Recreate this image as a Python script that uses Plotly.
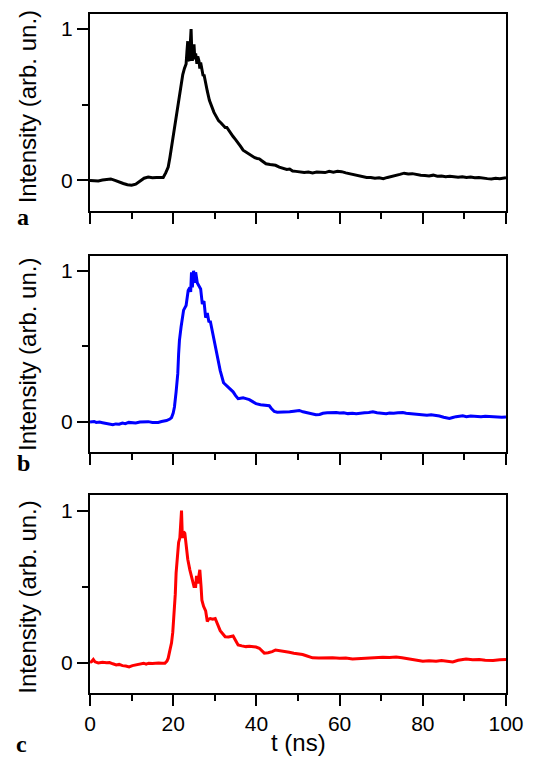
import plotly.graph_objects as go
from plotly.subplots import make_subplots

# ---- data ----
t_a = [0, 1, 2, 3, 4, 5, 6, 7, 8, 9, 10, 11, 12, 13, 14, 15, 16, 17, 17.6, 18.2, 18.8, 19.2, 19.6, 20.0,
       20.3, 20.5, 20.8, 21.1, 21.5, 21.9, 22.3, 22.7, 23.1, 23.3, 23.5, 23.7, 23.9, 24.1, 24.3, 24.5,
       24.6, 24.8, 25.0, 25.2, 25.4, 25.7, 25.9, 26.2, 26.4, 26.6, 27.0, 27.2, 27.4, 27.8, 28.2, 28.7,
       29.3, 29.8, 30.4, 30.9, 31.5, 32.0, 32.5, 32.9, 33.4, 34.0, 34.4, 35.0, 35.6, 36.2, 36.8, 37.5,
       38.0, 38.5, 39.1, 39.6, 40.2, 40.7, 41.3, 42.3, 43.3, 44.6, 45.5, 46.5, 47.3, 48.0, 48.7, 49.5,
       50.5, 51.5, 52.5, 53.5, 54.5, 55.5, 56.5, 57.5, 58.5, 59.5, 60.5, 61.5, 62.5, 63.5, 64.5, 65.5,
       66.5, 67.5, 68.5, 69.5, 70.5, 71.5, 72.5, 73.5, 74.5, 75.5, 76.5, 77.5, 78.5, 79.5, 80.5, 81.5,
       82.5, 83.5, 84.5, 85.5, 86.5, 87.5, 88.5, 89.5, 90.5, 91.5, 92.5, 93.5, 94.5, 95.5, 96.5, 97.5,
       98.5, 99.5, 100]
v_a = [0, 0.0, -0.003, 0.003, 0.008, 0.01, 0.0, -0.012, -0.02, -0.028, -0.032, -0.025, -0.005, 0.015,
       0.022, 0.018, 0.02, 0.018, 0.02, 0.05, 0.088, 0.15, 0.22, 0.30, 0.35, 0.40, 0.44, 0.48, 0.57,
       0.65, 0.70, 0.74, 0.77, 0.85, 0.92, 0.80, 0.79, 0.90, 1.0, 0.82, 0.79, 0.86, 0.90, 0.80, 0.84,
       0.77, 0.82, 0.79, 0.74, 0.78, 0.72, 0.69, 0.70, 0.635, 0.59, 0.53, 0.48, 0.45, 0.42, 0.395,
       0.38, 0.365, 0.35, 0.35, 0.33, 0.30, 0.29, 0.27, 0.25, 0.225, 0.20, 0.187, 0.175, 0.165, 0.155,
       0.15, 0.145, 0.143, 0.13, 0.11, 0.105, 0.10, 0.088, 0.078, 0.072, 0.075, 0.062, 0.06, 0.055,
       0.052, 0.055, 0.05, 0.055, 0.055, 0.052, 0.06, 0.055, 0.06, 0.058, 0.05, 0.045, 0.04, 0.03,
       0.025, 0.02, 0.02, 0.015, 0.018, 0.012, 0.02, 0.025, 0.035, 0.04, 0.048, 0.042, 0.045, 0.038,
       0.035, 0.033, 0.03, 0.035, 0.028, 0.03, 0.025, 0.028, 0.026, 0.022, 0.025, 0.02, 0.022, 0.018,
       0.02, 0.015, 0.012, 0.01, 0.014, 0.012, 0.016, 0.018]

t_b = [0, 0.4, 1, 1.5, 2.3, 3, 4, 5, 5.5, 6.2, 7, 7.8, 8.5, 9.3, 10.2, 11, 12, 13.3, 14, 15, 16.4, 17.2,
       18.4, 19.2, 19.6, 20.0, 20.3, 20.7, 21.1, 21.3, 21.5, 21.9, 22.5, 23.1, 23.6, 24.0, 24.2, 24.4,
       24.6, 24.9, 25.2, 25.4, 25.8, 26.6, 27.0, 27.4, 27.8, 28.2, 28.6, 28.9, 29.7, 30.5, 31.3, 32.1,
       32.7, 33.3, 34.0, 34.4, 35.0, 35.6, 36.2, 36.8, 37.5, 38.3, 39.1, 39.9, 41, 42.2, 43.1, 43.6,
       44.3, 45, 46, 47.1, 48, 49, 50.3, 51.2, 52, 53, 54.3, 55.2, 56, 57, 58.3, 59.2, 60, 61, 62, 63.1,
       64, 65, 66, 67, 68, 69, 70, 71.2, 72, 73, 74, 75.2, 76, 77, 78, 79.2, 80, 81, 82, 83.2, 84, 85,
       86.4, 87.2, 88, 89.6, 90.5, 91.5, 92.8, 94, 95, 96.9, 98, 99, 100]
v_b = [0, 0.0, 0.004, -0.002, 0.0, -0.004, -0.01, -0.015, -0.017, -0.012, -0.014, -0.006, -0.01, -0.002,
       -0.004, -0.006, 0.0, 0.0, 0.003, -0.002, -0.002, 0.004, 0.01, 0.02, 0.03, 0.06, 0.10, 0.20, 0.32,
       0.45, 0.54, 0.63, 0.74, 0.77, 0.87, 0.89, 0.86, 0.99, 0.89, 1.0, 0.92, 0.99, 0.92, 0.88, 0.78,
       0.80, 0.69, 0.72, 0.66, 0.67, 0.56, 0.43, 0.34, 0.26, 0.245, 0.23, 0.215, 0.20, 0.175, 0.155,
       0.158, 0.16, 0.155, 0.148, 0.135, 0.122, 0.115, 0.11, 0.108, 0.09, 0.07, 0.065, 0.066, 0.063,
       0.068, 0.072, 0.077, 0.068, 0.062, 0.055, 0.048, 0.05, 0.058, 0.062, 0.066, 0.064, 0.06, 0.062,
       0.056, 0.059, 0.055, 0.06, 0.062, 0.064, 0.068, 0.062, 0.058, 0.055, 0.06, 0.058, 0.062, 0.063,
       0.058, 0.055, 0.052, 0.048, 0.05, 0.046, 0.048, 0.044, 0.04, 0.032, 0.024, 0.03, 0.036, 0.042,
       0.036, 0.04, 0.037, 0.035, 0.038, 0.033, 0.034, 0.032, 0.033]

t_c = [0, 0.4, 0.8, 1.2, 2.0, 3, 4, 4.7, 5.5, 6.3, 7, 7.8, 8.6, 9.4, 10.2, 10.9, 11.8, 12.9, 13.5, 14.1,
       15, 15.6, 16.5, 17.3, 18.0, 18.5, 18.8, 19.2, 19.6, 19.9, 20.2, 20.5, 20.7, 21.0, 21.3, 21.6,
       21.8, 22.0, 22.2, 22.5, 22.8, 23.1, 23.5, 24.0, 24.6, 25.0, 25.4, 25.6, 25.9, 26.2, 26.4, 26.7,
       26.9, 27.3, 27.8, 28.2, 28.5, 28.9, 29.5, 30.1, 30.7, 31.3, 31.9, 32.5, 33.3, 34.0, 34.4, 35.0,
       35.6, 36.5, 37.5, 38.3, 39.1, 39.9, 40.7, 41.3, 41.9, 42.8, 43.8, 44.6, 45.5, 46.5, 47.9, 49, 50,
       51.1, 52, 53.5, 55, 56.5, 58.3, 60, 61.5, 63.1, 64.5, 66, 67.5, 69, 70.4, 72, 73.6, 75, 76.5,
       77.6, 78.8, 80, 81.5, 83.2, 84.5, 85.5, 87.2, 88.5, 90.4, 92, 93.6, 95, 96.9, 98.5, 100]
v_c = [0.0, 0.007, 0.02, 0.005, -0.002, 0.002, -0.001, 0.0, -0.008, -0.015, -0.012, -0.02, -0.022,
       -0.028, -0.02, -0.015, -0.01, -0.004, -0.01, -0.004, -0.006, -0.004, -0.002, -0.004, -0.004,
       0.01, 0.029, 0.08, 0.13, 0.2, 0.30, 0.45, 0.59, 0.72, 0.79, 0.82, 0.9, 1.0, 0.82, 0.86, 0.85,
       0.76, 0.68, 0.61, 0.54, 0.50, 0.50, 0.57, 0.52, 0.58, 0.61, 0.50, 0.41, 0.37, 0.34, 0.27, 0.285,
       0.29, 0.285, 0.29, 0.25, 0.21, 0.19, 0.17, 0.168, 0.172, 0.175, 0.145, 0.116, 0.11, 0.105, 0.108,
       0.105, 0.102, 0.094, 0.075, 0.062, 0.065, 0.072, 0.083, 0.08, 0.072, 0.068, 0.062, 0.058, 0.053,
       0.045, 0.031, 0.03, 0.032, 0.031, 0.028, 0.03, 0.024, 0.026, 0.03, 0.028, 0.032, 0.035, 0.033,
       0.037, 0.032, 0.026, 0.02, 0.015, 0.009, 0.012, 0.009, 0.014, 0.01, 0.004, 0.015, 0.024, 0.018,
       0.02, 0.016, 0.013, 0.018, 0.02]

x_tickvals = [0, 20, 40, 60, 80, 100]
y_tickvals = [0, 1]
y_ticktext = ["0", "1"]
panel_letters = ["a", "b", "c"]
y_title = "Intensity (arb. un.)"
x_title = "t (ns)"

series = [(t_a, v_a, "#000000"), (t_b, v_b, "#0000ff"), (t_c, v_c, "#ff0000")]

W, H = 536, 758
ML, MR, MT, MB = 90, 20, 13, 65
PH = H - MT - MB  # 680
PW = W - ML - MR  # 426

def py(p):
    return (H - MB - p) / PH

def px(p):
    return (p - ML) / PW

panel_px = [(13, 210), (255, 452), (495, 693)]

fig = make_subplots(rows=3, cols=1)
for i, (t, v, col) in enumerate(series):
    fig.add_trace(go.Scatter(x=t, y=v, mode="lines", line=dict(color=col, width=3),
                             showlegend=False), row=i + 1, col=1)

font = "Liberation Sans, Arial, sans-serif"
for i in range(3):
    top, bot = panel_px[i]
    xa = "xaxis" if i == 0 else f"xaxis{i+1}"
    ya = "yaxis" if i == 0 else f"yaxis{i+1}"
    fig.layout[xa].update(
        domain=[0, 1], range=[0, 100], tickvals=x_tickvals,
        showticklabels=(i == 2), ticks="outside", ticklen=11, tickwidth=2, tickcolor="black",
        minor=dict(dtick=10, tick0=0, ticks="outside", ticklen=6, tickwidth=2, tickcolor="black"),
        showline=True, linewidth=2, linecolor="black", mirror=True,
        showgrid=False, zeroline=False,
        tickfont=dict(family=font, size=21, color="black"),
    )
    fig.layout[ya].update(
        domain=[py(bot), py(top)], range=[-0.2, 1.1], tickvals=y_tickvals, ticktext=y_ticktext,
        ticks="outside", ticklen=11, tickwidth=2, tickcolor="black",
        minor=dict(dtick=0.5, tick0=0, ticks="outside", ticklen=6, tickwidth=2, tickcolor="black"),
        showline=True, linewidth=2, linecolor="black", mirror=True,
        showgrid=False, zeroline=False,
        tickfont=dict(family=font, size=21, color="black"),
    )

title_centers = [106, 354, 597]
letter_pos = [(21, 216), (22, 463), (20, 744)]
annotations = []
for i in range(3):
    annotations.append(dict(text=y_title, textangle=-90, xref="paper", yref="paper",
                            x=px(26), y=py(title_centers[i]), xanchor="center", yanchor="middle",
                            showarrow=False, font=dict(family=font, size=24, color="black")))
    lx, ly = letter_pos[i]
    annotations.append(dict(text=f"<b>{panel_letters[i]}</b>", xref="paper", yref="paper",
                            x=px(lx), y=py(ly), xanchor="center", yanchor="middle",
                            showarrow=False,
                            font=dict(family="Liberation Serif, Times New Roman, serif", size=24,
                                      color="black")))
annotations.append(dict(text=x_title, xref="paper", yref="paper", x=px(303), y=py(743),
                        xanchor="center", yanchor="middle", showarrow=False,
                        font=dict(family=font, size=24, color="black")))

fig.update_layout(width=W, height=H, margin=dict(l=ML, r=MR, t=MT, b=MB),
                  paper_bgcolor="white", plot_bgcolor="white", annotations=annotations)

fig.write_html("out.html")
